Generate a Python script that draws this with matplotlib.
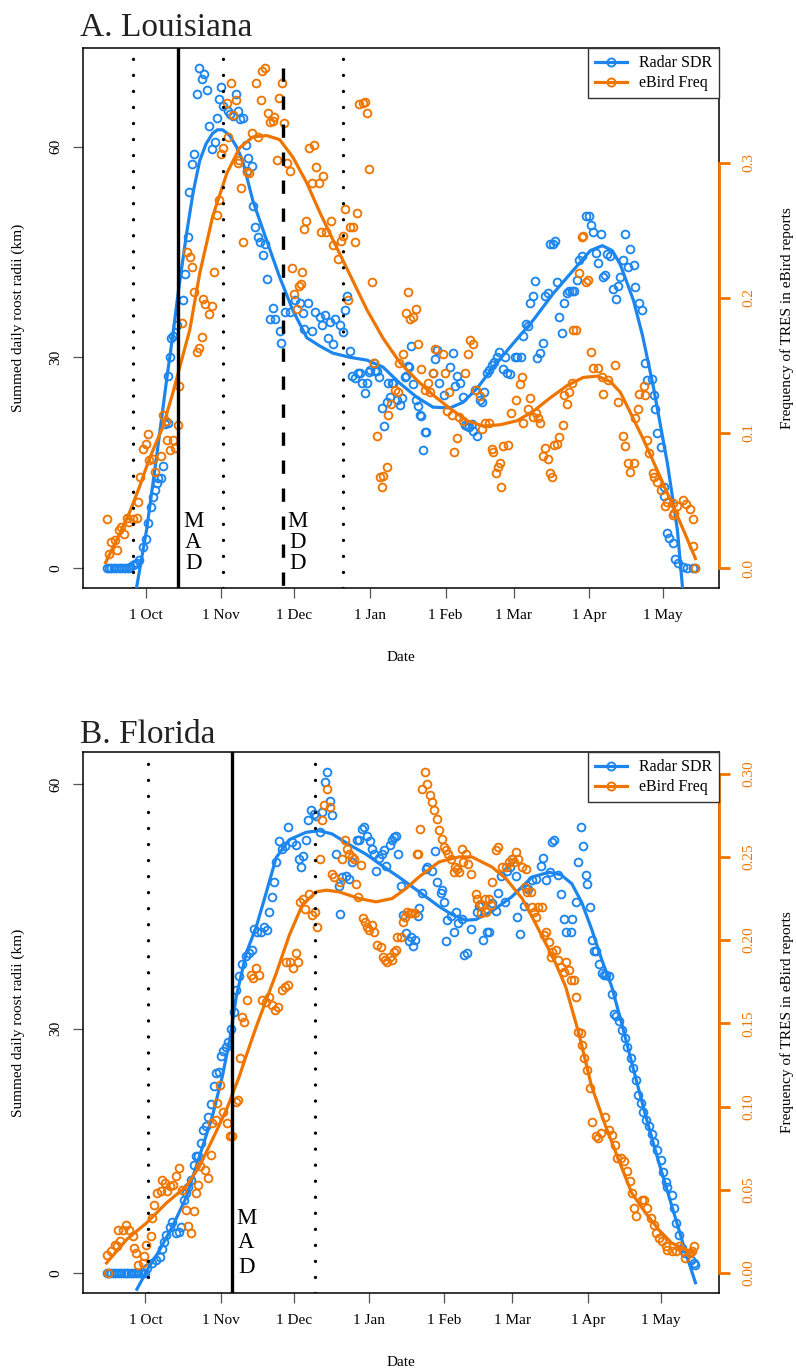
import numpy as np
import matplotlib
matplotlib.use("Agg")
import matplotlib.pyplot as plt
from matplotlib.lines import Line2D

plt.rcParams['font.family'] = ['Liberation Serif', 'DejaVu Serif']

BLUE = '#1C86EE'
ORANGE = '#EE7600'

# days counted from 1 October
month_ticks = [0, 31, 61, 92, 123, 151, 182, 212]
month_labels = ['1 Oct', '1 Nov', '1 Dec', '1 Jan', '1 Feb', '1 Mar', '1 Apr', '1 May']

# ---- Louisiana: radar summed daily roost radii (day, km) ----
sdr_la = np.array([
    [-16, 0], [-15, 0], [-14, 0], [-13, 0], [-12, 0], [-11, 0], [-10, 0], [-9, 0], [-8, 0], [-7, 0],
    [-6.2, 0.1], [-5.3, 0.4], [-4.5, 0.6], [-3.7, 0.7], [-2.5, 1.1], [-1.2, 3.0], [0, 4.1], [1.2, 6.4],
    [2.1, 8.7], [2.9, 10.1], [3.7, 11.1], [4.5, 12.1], [5.3, 12.8], [6.2, 12.8], [7.0, 14.5], [7.8, 20.5],
    [9.0, 20.6], [9.0, 27.3], [9.9, 30.1], [10.3, 32.8], [11.1, 33.0], [12.7, 34.6], [15.2, 38.1],
    [16.0, 41.9], [17.3, 47.1], [17.7, 53.5], [18.9, 57.6], [19.7, 59.0], [21.0, 67.5], [21.8, 71.2],
    [23.0, 69.7], [23.8, 70.4], [25.1, 68.0], [25.9, 63.0], [27.1, 59.7], [28.3, 60.6], [29.2, 64.1],
    [30.0, 66.8], [30.8, 68.5], [31.6, 65.8], [33.7, 65.1], [34.5, 64.7], [35.7, 64.4], [37.0, 67.5],
    [37.8, 65.1], [38.6, 64.0], [39.8, 64.1], [41.1, 60.2], [41.5, 56.6], [41.9, 58.4], [43.5, 57.3],
    [44.0, 51.5], [44.8, 48.5], [46.0, 47.1], [46.8, 46.4], [48.1, 44.5], [48.9, 46.2], [49.7, 41.2],
    [50.9, 35.4], [52.2, 37.0], [53.0, 35.5], [55.0, 33.7], [55.4, 32.0], [57.1, 36.4], [59.2, 36.4],
    [61.2, 38.1], [63.3, 37.7], [64.5, 36.3], [64.9, 34.1], [66.5, 37.8], [68.2, 33.8], [69.4, 36.5],
    [71.5, 35.7], [72.3, 34.6], [73.5, 36.0], [74.8, 32.8], [75.6, 35.0], [76.8, 31.9], [77.6, 35.5],
    [79.7, 34.6], [80.9, 33.6], [81.8, 36.7], [82.6, 38.8], [83.8, 30.9], [84.6, 27.4], [85.9, 27.0],
    [87.1, 27.7], [87.9, 27.7], [88.7, 26.3], [90.0, 24.9], [90.8, 26.3], [91.6, 27.9], [92.0, 28.2],
    [93.7, 29.2], [94.1, 28.0], [94.9, 28.0], [95.7, 27.2], [96.9, 22.8], [97.8, 20.2], [99.0, 23.6],
    [99.4, 26.3], [100.2, 24.3], [101.1, 26.4], [101.5, 26.3], [103.1, 23.9], [104.3, 23.2],
    [105.2, 24.2], [106.4, 27.2], [106.8, 27.3], [107.6, 28.7], [108.0, 28.6], [108.9, 31.6],
    [109.7, 26.2], [110.9, 23.9], [111.7, 23.0], [112.6, 21.8], [113.0, 21.6], [113.8, 16.8],
    [114.6, 19.3], [115.0, 19.3], [117.9, 27.7], [118.7, 29.7], [119.5, 31.0], [120.4, 26.3],
    [122.4, 24.7], [124.9, 28.6], [126.1, 30.6], [126.9, 25.9], [127.8, 27.3], [129.0, 26.4],
    [130.2, 24.3], [131.0, 20.3], [131.9, 20.2], [132.7, 20.1], [133.9, 20.5], [134.3, 19.5],
    [135.2, 25.3], [136.0, 18.8], [137.2, 23.9], [138.0, 23.7], [138.9, 25.0], [140.1, 27.7],
    [140.9, 28.2], [142.1, 28.9], [143.0, 29.4], [144.2, 30.0], [145.0, 30.7], [146.7, 28.3],
    [147.5, 30.0], [148.3, 27.7], [149.5, 27.6], [151.6, 30.1], [152.4, 30.0], [154.0, 30.0],
    [154.9, 33.0], [156.1, 34.8], [156.9, 34.4], [157.7, 37.7], [159.0, 38.7], [159.8, 40.8],
    [160.6, 29.9], [161.9, 30.6], [163.1, 32.0], [163.9, 38.8], [165.1, 39.1], [166.0, 46.1],
    [167.2, 46.2], [168.0, 46.5], [168.8, 40.7], [169.7, 35.8], [170.9, 33.4], [171.7, 37.7],
    [172.9, 39.2], [173.8, 39.5], [175.0, 39.5], [175.8, 39.4], [177.1, 41.0], [177.9, 43.9],
    [179.1, 44.4], [180.7, 50.1], [182.0, 50.1], [182.8, 48.8], [183.6, 47.9], [184.9, 44.8],
    [185.7, 43.5], [186.9, 47.6], [187.7, 41.4], [188.6, 41.7], [189.4, 44.7], [190.6, 44.4],
    [191.8, 39.8], [193.1, 38.3], [193.9, 40.1], [194.7, 41.4], [195.9, 43.9], [196.8, 47.5],
    [198.0, 42.8], [198.8, 45.4], [200.1, 43.1], [200.9, 40.0], [202.5, 37.7], [203.4, 36.7],
    [205.0, 29.2], [205.8, 26.7], [207.5, 26.9], [208.3, 24.7], [209.1, 22.6], [209.9, 19.2],
    [211.2, 17.2], [212.4, 11.5], [212.8, 10.2], [214.0, 5.0], [214.8, 4.3], [216.1, 3.6],
    [217.3, 1.3], [218.5, 0.7], [220.2, 0.1], [222.2, 0], [224.3, 0], [225.5, 0],
])

sdr_la_fit = np.array([
    [-5.5, -6.0], [-3.7, -2.8], [0.4, 5.4], [4.5, 15.8], [8.6, 26.7], [11.1, 33.0], [13.5, 39.5],
    [16.8, 47.6], [19.5, 53.5], [22.2, 58.0], [24.8, 60.4], [27.5, 61.9], [29.5, 62.4], [31.6, 62.4],
    [34.5, 61.6], [37.4, 59.9], [39.8, 58.0], [44.0, 52.3], [49.7, 46.6], [55.0, 41.4], [60.4, 36.7],
    [66.1, 32.8], [71.5, 31.6], [76.8, 30.6], [83.8, 30.0], [90.8, 29.6], [97.4, 28.6], [104.3, 26.3],
    [111.3, 24.3], [117.9, 22.9], [124.9, 22.8], [130.2, 23.6], [136.0, 25.6], [142.5, 28.6],
    [150.8, 32.0], [159.0, 35.3], [167.2, 39.1], [175.4, 42.4], [182.4, 45.2], [187.3, 45.9],
    [191.4, 45.2], [194.7, 43.2], [200.1, 38.1], [203.8, 33.1], [208.3, 25.7], [214.0, 14.9],
    [218.1, 5.4], [220.2, -2.8], [221.0, -5.0],
])

# ---- Louisiana: eBird reporting frequency (day, freq) ----
ebird_la = np.array([
    [-16.0, 0.036], [-15.2, 0.010], [-14.0, 0.019], [-12.7, 0.021], [-11.9, 0.013], [-10.7, 0.028],
    [-9.9, 0.030], [-9.0, 0.025], [-7.8, 0.037], [-6.6, 0.034], [-5.3, 0.036], [-3.7, 0.037],
    [-2.9, 0.049], [-2.1, 0.067], [-1.2, 0.088], [0.0, 0.092], [0.8, 0.099], [1.6, 0.080],
    [2.9, 0.081], [3.7, 0.071], [6.2, 0.083], [7.0, 0.113], [8.2, 0.109], [8.6, 0.095], [9.9, 0.087],
    [11.1, 0.095], [11.9, 0.089], [13.1, 0.106], [13.9, 0.135], [14.8, 0.181], [16.8, 0.234],
    [18.1, 0.230], [18.9, 0.223], [19.7, 0.204], [21.0, 0.160], [21.8, 0.163], [23.0, 0.171],
    [23.4, 0.199], [24.2, 0.195], [25.9, 0.188], [27.1, 0.194], [28.0, 0.219], [29.2, 0.261],
    [30.0, 0.272], [30.8, 0.306], [31.6, 0.311], [33.3, 0.344], [33.7, 0.319], [34.9, 0.359],
    [35.7, 0.335], [37.0, 0.346], [37.8, 0.300], [38.2, 0.302], [39.0, 0.281], [39.8, 0.241],
    [41.5, 0.293], [42.3, 0.292], [43.5, 0.322], [45.2, 0.359], [46.0, 0.319], [47.2, 0.346],
    [47.7, 0.368], [48.9, 0.370], [50.1, 0.337], [50.9, 0.330], [52.2, 0.331], [52.6, 0.334],
    [53.8, 0.302], [54.6, 0.348], [55.9, 0.359], [56.7, 0.329], [57.9, 0.300], [59.2, 0.294],
    [60.0, 0.222], [60.8, 0.203], [62.1, 0.192], [62.9, 0.209], [63.7, 0.210], [64.1, 0.219],
    [64.9, 0.251], [65.7, 0.257], [67.0, 0.311], [68.2, 0.285], [69.0, 0.313], [69.8, 0.297],
    [71.1, 0.285], [71.9, 0.249], [72.7, 0.290], [73.9, 0.249], [76.0, 0.257], [76.8, 0.239],
    [78.9, 0.229], [80.1, 0.242], [80.9, 0.246], [81.8, 0.266], [83.0, 0.198], [83.8, 0.252],
    [85.0, 0.252], [85.9, 0.241], [86.7, 0.263], [87.5, 0.343], [89.1, 0.344], [90.0, 0.345],
    [90.8, 0.337], [91.6, 0.295], [92.8, 0.212], [93.7, 0.152], [94.9, 0.098], [96.1, 0.067],
    [96.9, 0.060], [97.4, 0.068], [99.0, 0.075], [99.4, 0.113], [100.6, 0.121], [102.3, 0.132],
    [103.5, 0.130], [103.9, 0.152], [105.6, 0.158], [106.8, 0.189], [107.6, 0.204], [108.5, 0.184],
    [109.7, 0.186], [110.9, 0.192], [111.7, 0.166], [113.0, 0.147], [114.6, 0.132], [115.8, 0.137],
    [116.7, 0.130], [117.9, 0.144], [118.7, 0.162], [122.0, 0.158], [122.8, 0.144], [123.6, 0.116],
    [124.5, 0.130], [125.7, 0.113], [126.5, 0.086], [127.8, 0.096], [128.6, 0.112], [130.2, 0.109],
    [131.0, 0.144], [132.3, 0.158], [133.1, 0.169], [134.3, 0.166], [135.6, 0.132], [137.2, 0.127],
    [138.0, 0.103], [139.3, 0.107], [140.9, 0.107], [142.1, 0.088], [142.5, 0.086], [143.8, 0.070],
    [144.6, 0.075], [145.4, 0.078], [145.8, 0.060], [146.7, 0.090], [148.7, 0.091], [149.9, 0.115],
    [152.0, 0.124], [153.6, 0.136], [154.5, 0.141], [154.9, 0.107], [156.9, 0.118], [157.7, 0.126],
    [159.0, 0.112], [160.2, 0.115], [161.0, 0.111], [161.9, 0.107], [163.1, 0.083], [163.9, 0.089],
    [165.1, 0.081], [166.0, 0.070], [166.8, 0.067], [167.6, 0.091], [168.8, 0.092], [169.7, 0.097],
    [171.3, 0.106], [171.7, 0.128], [172.9, 0.121], [173.8, 0.130], [175.0, 0.137], [175.4, 0.176],
    [176.6, 0.176], [177.9, 0.218], [179.1, 0.245], [179.5, 0.246], [180.7, 0.212], [181.6, 0.213],
    [182.8, 0.160], [183.6, 0.148], [185.7, 0.148], [187.3, 0.141], [187.7, 0.129], [189.8, 0.139],
    [192.6, 0.150], [193.9, 0.123], [195.9, 0.098], [196.8, 0.090], [198.0, 0.078], [198.8, 0.071],
    [200.1, 0.078], [200.9, 0.111], [202.1, 0.118], [202.5, 0.129], [204.2, 0.135], [205.0, 0.128],
    [205.8, 0.095], [206.6, 0.085], [207.9, 0.070], [208.7, 0.067], [209.9, 0.064], [211.2, 0.058],
    [213.2, 0.046], [214.0, 0.049], [216.1, 0.048], [216.1, 0.039], [216.9, 0.041], [218.1, 0.046],
    [220.6, 0.050], [221.8, 0.047], [223.1, 0.044], [224.3, 0.036], [224.7, 0.016], [225.5, 0.000],
])

ebird_la_fit = np.array([
    [-16.4, 0.004], [-11.5, 0.022], [-6.6, 0.041], [-2.5, 0.060], [1.6, 0.081], [7.0, 0.104],
    [11.1, 0.129], [14.8, 0.154], [18.1, 0.176], [22.2, 0.218], [27.5, 0.260], [33.3, 0.292],
    [38.6, 0.311], [44.0, 0.319], [49.7, 0.320], [55.0, 0.317], [60.4, 0.304], [66.1, 0.285],
    [71.5, 0.263], [76.8, 0.243], [83.8, 0.217], [90.8, 0.191], [97.4, 0.170], [104.3, 0.152],
    [111.3, 0.139], [117.9, 0.128], [124.9, 0.118], [131.9, 0.109], [138.4, 0.105], [145.4, 0.106],
    [152.4, 0.109], [159.0, 0.116], [166.0, 0.126], [172.9, 0.135], [179.5, 0.141], [185.3, 0.142],
    [190.6, 0.138], [194.7, 0.130], [198.8, 0.115], [204.2, 0.095], [209.9, 0.072], [215.3, 0.050],
    [220.6, 0.028], [225.5, 0.007],
])

# ---- Florida: radar summed daily roost radii (day, km) ----
sdr_fl = np.array(
    [[d, 0] for d in range(-16, 1)] + [
    [0.8, 0.6], [2.5, 1.2], [4.5, 1.6], [5.8, 2.0], [7.0, 3.0], [7.8, 3.8], [8.6, 4.7], [9.9, 5.7],
    [11.1, 6.3], [12.7, 4.9], [13.9, 5.0], [14.8, 5.7], [16.0, 9.0], [16.8, 9.8], [17.7, 10.6],
    [18.9, 11.4], [20.1, 13.3], [21.0, 14.3], [21.8, 14.3], [23.0, 16.0], [23.8, 17.6], [25.1, 18.0],
    [25.9, 19.1], [27.1, 20.7], [28.3, 22.9], [29.2, 24.6], [30.4, 24.7], [31.2, 26.6], [32.0, 27.3],
    [33.3, 27.7], [34.1, 28.3], [35.3, 29.9], [36.6, 32.1], [37.4, 34.8], [38.6, 36.5], [39.8, 37.9],
    [41.5, 38.9], [42.7, 39.3], [44.0, 39.6], [44.8, 42.2], [46.0, 41.8], [47.7, 41.8], [48.9, 42.5],
    [50.1, 42.1], [50.9, 44.3], [52.2, 46.2], [53.0, 48.0], [53.8, 50.4], [55.0, 53.0], [56.3, 52.1],
    [57.5, 52.4], [58.7, 54.7], [60.4, 52.9], [62.0, 52.5], [63.3, 50.8], [64.1, 49.9], [64.9, 51.2],
    [66.1, 53.1], [67.0, 55.6], [68.2, 56.9], [69.4, 56.3], [70.2, 56.1], [71.9, 54.1], [72.7, 56.6],
    [73.9, 60.3], [74.8, 61.5], [76.0, 57.9], [76.8, 56.2], [78.5, 51.4], [79.7, 47.5], [80.1, 44.1],
    [80.9, 48.6], [82.6, 48.7], [83.8, 48.4], [85.0, 50.5], [87.1, 53.2], [87.9, 53.2], [89.1, 54.5],
    [90.0, 54.8], [91.2, 53.6], [92.4, 53.0], [93.3, 52.1], [94.1, 51.4], [94.9, 49.4], [96.1, 50.9],
    [97.4, 51.4], [98.2, 51.9], [99.0, 50.0], [100.6, 52.6], [101.5, 53.1], [102.3, 53.5],
    [103.1, 53.6], [103.9, 51.4], [105.2, 47.5], [106.0, 44.0], [107.2, 41.7], [108.5, 40.7],
    [109.3, 41.3], [110.1, 40.1], [110.9, 40.9], [112.1, 43.8], [112.6, 44.8], [113.8, 46.7],
    [115.4, 49.6], [115.8, 49.8], [117.9, 49.3], [119.1, 51.8], [120.0, 48.0], [121.6, 46.7],
    [122.0, 47.0], [122.8, 45.6], [123.6, 40.8], [124.1, 43.3], [125.7, 43.8], [126.9, 41.8],
    [127.8, 44.3], [128.6, 43.0], [130.2, 43.4], [131.0, 39.0], [132.3, 39.3], [133.9, 42.2],
    [136.4, 44.3], [137.2, 45.0], [138.9, 40.9], [140.5, 41.9], [141.3, 41.8], [142.5, 45.4],
    [144.2, 44.4], [145.0, 46.7], [146.2, 48.7], [147.9, 45.5], [148.7, 49.3], [149.9, 49.9],
    [150.8, 50.8], [152.4, 48.7], [152.8, 43.7], [154.0, 41.6], [155.7, 45.0], [156.5, 47.3],
    [157.3, 47.1], [159.0, 48.3], [160.6, 48.4], [162.7, 50.0], [163.5, 50.9], [164.7, 48.3],
    [166.4, 49.2], [167.2, 52.9], [168.0, 53.2], [169.7, 48.8], [170.9, 46.5], [172.1, 43.4],
    [172.9, 41.8], [175.0, 41.8], [175.4, 43.5], [177.1, 45.6], [177.9, 50.4], [179.1, 54.8],
    [179.9, 52.4], [181.2, 48.9], [181.6, 47.8], [182.8, 44.9], [183.6, 40.9], [184.4, 39.5],
    [185.3, 39.5], [186.5, 37.9], [187.7, 36.8], [188.6, 36.6], [189.4, 36.6], [190.6, 36.4],
    [191.8, 34.2], [192.7, 31.8], [193.5, 31.6], [194.7, 30.9], [195.9, 29.8], [197.2, 28.9],
    [198.0, 27.8], [199.6, 26.4], [200.5, 25.2], [201.7, 23.7], [202.5, 21.9], [203.8, 20.9],
    [204.6, 19.8], [205.8, 18.8], [207.0, 18.0], [208.3, 17.0], [209.1, 16.1], [210.3, 15.1],
    [212.0, 13.9], [212.8, 12.4], [214.0, 11.2], [214.8, 10.5], [216.5, 9.6], [217.3, 8.0],
    [218.1, 6.1], [219.4, 4.7], [220.6, 3.1], [222.2, 2.5], [224.3, 1.6], [225.5, 1.2], [226.3, 1.0],
])

sdr_fl_fit = np.array([
    [-3.5, -2.0], [0.8, 0.4], [5.8, 2.8], [11.1, 5.7], [16.8, 9.3], [22.2, 14.3], [27.5, 19.2],
    [31.6, 24.1], [34.5, 28.3], [37.4, 34.0], [41.5, 39.3], [45.6, 42.5], [49.7, 46.7], [53.8, 51.0],
    [59.2, 53.2], [66.1, 54.1], [71.5, 54.3], [76.8, 53.9], [83.8, 52.6], [90.8, 51.4], [97.4, 50.0],
    [104.3, 48.6], [112.6, 46.8], [120.8, 45.0], [126.1, 44.0], [131.9, 43.3], [136.0, 43.4],
    [142.5, 44.4], [150.8, 46.2], [159.0, 48.6], [166.0, 49.2], [170.9, 48.9], [175.4, 47.8],
    [179.5, 45.5], [183.6, 42.2], [187.7, 38.5], [191.8, 35.2], [195.9, 30.7], [200.1, 25.8],
    [205.8, 19.3], [211.2, 13.6], [216.5, 8.3], [222.2, 2.6], [226.3, -1.2],
])

# ---- Florida: eBird reporting frequency (day, freq) ----
ebird_fl = np.array([
    [-16.0, 0.011], [-15.6, 0.000], [-14.0, 0.013], [-12.7, 0.017], [-11.5, 0.016], [-11.1, 0.026],
    [-10.3, 0.019], [-9.4, 0.026], [-7.8, 0.029], [-6.6, 0.026], [-5.3, 0.022], [-4.9, 0.015],
    [-3.7, 0.012], [-2.9, 0.005], [-1.2, 0.006], [-0.4, 0.010], [0.4, 0.017], [2.1, 0.022],
    [2.9, 0.033], [3.7, 0.041], [4.9, 0.048], [6.2, 0.049], [7.0, 0.056], [8.2, 0.054], [9.0, 0.049],
    [10.3, 0.052], [11.5, 0.053], [12.7, 0.058], [14.0, 0.063], [15.2, 0.050], [16.8, 0.038],
    [17.7, 0.028], [18.9, 0.024], [20.1, 0.037], [21.0, 0.048], [21.8, 0.053], [22.6, 0.064],
    [24.6, 0.062], [25.9, 0.057], [27.1, 0.071], [27.5, 0.090], [29.2, 0.092], [29.6, 0.102],
    [30.8, 0.113], [32.0, 0.097], [33.7, 0.090], [34.9, 0.082], [35.7, 0.082], [37.4, 0.103],
    [38.2, 0.104], [39.0, 0.129], [39.8, 0.154], [40.7, 0.151], [41.9, 0.164], [43.5, 0.179],
    [44.4, 0.177], [45.6, 0.183], [46.8, 0.179], [48.1, 0.164], [49.7, 0.163], [50.9, 0.166],
    [52.2, 0.161], [53.4, 0.158], [54.6, 0.160], [56.3, 0.170], [57.5, 0.172], [57.9, 0.187],
    [58.7, 0.173], [59.6, 0.187], [60.8, 0.183], [62.0, 0.192], [62.9, 0.187], [63.7, 0.223],
    [64.9, 0.225], [65.7, 0.219], [67.4, 0.228], [68.6, 0.215], [69.8, 0.217], [70.7, 0.208],
    [71.9, 0.249], [72.7, 0.272], [73.5, 0.281], [74.8, 0.291], [76.0, 0.280], [76.8, 0.240],
    [77.6, 0.238], [80.1, 0.235], [80.9, 0.249], [82.2, 0.260], [83.0, 0.255], [83.8, 0.252],
    [85.0, 0.250], [85.9, 0.249], [86.7, 0.234], [87.5, 0.226], [88.7, 0.245], [89.6, 0.213],
    [90.4, 0.211], [91.2, 0.208], [92.0, 0.206], [93.3, 0.209], [94.1, 0.205], [95.3, 0.197],
    [96.9, 0.196], [97.8, 0.190], [98.6, 0.188], [99.4, 0.187], [100.6, 0.190], [101.5, 0.188],
    [102.3, 0.193], [103.1, 0.194], [103.5, 0.202], [105.2, 0.202], [106.0, 0.211], [106.8, 0.214],
    [107.6, 0.217], [108.9, 0.216], [109.7, 0.216], [110.9, 0.216], [111.7, 0.252], [112.1, 0.252],
    [113.0, 0.267], [113.8, 0.291], [115.0, 0.301], [115.8, 0.294], [117.1, 0.287], [117.9, 0.283],
    [118.7, 0.278], [120.0, 0.273], [120.8, 0.266], [122.0, 0.261], [122.8, 0.256], [123.6, 0.254],
    [124.5, 0.252], [125.7, 0.249], [126.9, 0.241], [127.3, 0.244], [128.2, 0.243], [129.0, 0.241],
    [130.2, 0.255], [130.6, 0.247], [131.9, 0.252], [132.7, 0.246], [133.9, 0.240], [136.0, 0.228],
    [136.4, 0.225], [137.6, 0.222], [138.0, 0.216], [138.4, 0.221], [139.7, 0.225], [140.1, 0.217],
    [141.3, 0.225], [142.1, 0.221], [142.5, 0.235], [144.2, 0.254], [145.0, 0.256], [146.7, 0.244],
    [148.3, 0.244], [149.5, 0.247], [150.8, 0.249], [151.6, 0.247], [152.4, 0.253], [153.2, 0.249],
    [154.9, 0.244], [156.1, 0.232], [156.5, 0.243], [156.9, 0.229], [158.6, 0.229], [159.0, 0.220],
    [159.8, 0.217], [160.6, 0.214], [161.4, 0.220], [163.1, 0.220], [163.9, 0.203], [164.7, 0.205],
    [166.0, 0.199], [166.8, 0.190], [167.2, 0.193], [168.8, 0.194], [169.7, 0.188], [170.9, 0.184],
    [172.1, 0.181], [172.9, 0.187], [174.2, 0.182], [175.0, 0.176], [176.2, 0.176], [177.1, 0.166],
    [177.9, 0.145], [179.1, 0.144], [179.5, 0.137], [180.3, 0.129], [181.6, 0.122], [182.8, 0.111],
    [183.6, 0.091], [185.3, 0.082], [186.1, 0.081], [187.3, 0.084], [189.0, 0.094], [190.6, 0.086],
    [191.8, 0.083], [193.1, 0.077], [193.9, 0.069], [195.5, 0.069], [196.8, 0.067], [198.0, 0.061],
    [199.2, 0.055], [200.1, 0.048], [200.9, 0.039], [201.7, 0.034], [204.2, 0.044], [205.0, 0.044],
    [206.2, 0.039], [207.9, 0.033], [209.1, 0.029], [209.9, 0.024], [211.2, 0.021], [212.4, 0.019],
    [214.0, 0.016], [214.8, 0.014], [216.5, 0.013], [218.1, 0.013], [219.4, 0.016], [221.0, 0.013],
    [222.2, 0.009], [223.9, 0.012], [224.7, 0.013], [225.9, 0.016],
])

ebird_fl_fit = np.array([
    [-16.0, 0.006], [-7.8, 0.020], [0.4, 0.030], [8.6, 0.042], [16.8, 0.052], [22.2, 0.064],
    [27.5, 0.080], [33.3, 0.098], [38.6, 0.118], [41.1, 0.129], [45.6, 0.148], [49.7, 0.164],
    [53.8, 0.180], [59.2, 0.203], [64.5, 0.221], [70.2, 0.229], [74.4, 0.230], [79.7, 0.229],
    [87.9, 0.225], [94.9, 0.223], [101.5, 0.225], [107.2, 0.231], [112.6, 0.238], [120.8, 0.247],
    [129.0, 0.250], [134.3, 0.250], [142.5, 0.244], [148.3, 0.237], [155.0, 0.225], [159.8, 0.212],
    [164.7, 0.198], [168.8, 0.186], [172.9, 0.172], [178.3, 0.144], [183.6, 0.112], [189.4, 0.088],
    [194.7, 0.068], [200.1, 0.048], [205.8, 0.036], [211.2, 0.026], [216.5, 0.018], [222.2, 0.014],
    [225.5, 0.012],
])

# reference dates (days after 1 Oct)
la_mad, la_mdd = 13.5, 56.4
la_dotted = [-5.1, 31.9, 80.9]
fl_mad = 35.45
fl_dotted = [0.95, 69.96]


def r_range(values):
    """Axis range padded by 4% on each side, as R does by default."""
    lo, hi = np.min(values), np.max(values)
    pad = 0.04 * (hi - lo)
    return lo - pad, hi + pad


def stacked(ax, km_ax, x, word):
    # letters centred at 7, 4 and 1 km, one above the other
    for ch, y in zip(word, [7, 4, 1]):
        ax.text(x + 6, y, ch, ha='center', va='center_baseline', fontsize=16.5,
                transform=km_ax.transData, zorder=6)


def draw_panel(ax, sdr, sdr_fit, ebird, ebird_fit, km_ticks, freq_ticks, freq_labels,
               mad, dotted, mdd=None):
    ax2 = ax.twinx()

    ax.plot(sdr[:, 0], sdr[:, 1], 'o', ms=5.6, mfc='none', mec=BLUE, mew=1.35, zorder=2)
    ax.plot(sdr_fit[:, 0], sdr_fit[:, 1], color=BLUE, lw=2.3, zorder=3)
    ax2.plot(ebird[:, 0], ebird[:, 1], 'o', ms=5.6, mfc='none', mec=ORANGE, mew=1.35, zorder=2)
    ax2.plot(ebird_fit[:, 0], ebird_fit[:, 1], color=ORANGE, lw=2.3, zorder=3)

    ax.set_xlim(r_range(np.concatenate([sdr[:, 0], ebird[:, 0]])))
    ax.set_ylim(r_range(sdr[:, 1]))
    ax2.set_ylim(r_range(ebird[:, 1]))

    # reference lines: window (dotted), mean arrival (solid), mean departure (dashed)
    xt = ax2.get_xaxis_transform()
    for d in dotted:
        ax2.plot([d, d], [0, 1], transform=xt, color='black', lw=2.4,
                 linestyle=(0, (0.01, 4.8)), dash_capstyle='round', zorder=5)
    ax2.plot([mad, mad], [0, 1], transform=xt, color='black', lw=2.4, zorder=5)
    stacked(ax2, ax, mad, 'MAD')
    if mdd is not None:
        ax2.plot([mdd, mdd], [sdr[:, 1].max(), ax.get_ylim()[0]], transform=ax.transData,
                 color='black', lw=2.4, linestyle=(0, (4.0, 4.4)), zorder=5)
        stacked(ax2, ax, mdd, 'MDD')

    # box and axes
    for sp in ax.spines.values():
        sp.set_linewidth(1.1)
        sp.set_color('black')
    for name in ['left', 'top', 'bottom']:
        ax2.spines[name].set_visible(False)
    ax2.spines['right'].set_color(ORANGE)
    ax2.spines['right'].set_linewidth(2.0)
    ax2.spines['right'].set_bounds(freq_ticks[0], freq_ticks[-1])

    ax.set_xticks(month_ticks)
    ax.set_xticklabels(month_labels)
    ax.tick_params(axis='x', length=7, width=0.9, color='#555555', pad=8, labelsize=11)
    ax.set_yticks(km_ticks)
    ax.set_yticklabels([str(k) for k in km_ticks])
    ax.tick_params(axis='y', length=7, width=0.9, color='#555555', pad=8, labelsize=11,
                   labelrotation=90)
    for lab in ax.get_yticklabels():
        lab.set_verticalalignment('center')

    ax2.set_yticks(freq_ticks)
    ax2.set_yticklabels(freq_labels)
    ax2.tick_params(axis='y', length=8, width=2.0, color=ORANGE, labelcolor=ORANGE, pad=9,
                    labelsize=11, labelrotation=90)
    for lab in ax2.get_yticklabels():
        lab.set_verticalalignment('center')

    handles = [Line2D([], [], color=c, lw=2.3, marker='o', ms=5.8, mfc='none', mew=1.35)
               for c in (BLUE, ORANGE)]
    leg = ax2.legend(handles, ['Radar SDR', 'eBird Freq'], loc='upper right', borderaxespad=0,
                     fontsize=11.5, frameon=True, fancybox=False, framealpha=1,
                     edgecolor='#333333', borderpad=0.45, labelspacing=0.25,
                     handlelength=2.0, handletextpad=0.75, numpoints=1)
    leg.get_frame().set_linewidth(1.0)
    leg.set_zorder(10)
    return ax2


fig = plt.figure(figsize=(7.96, 13.7), dpi=100)
W, H = 796, 1370

ax_la = fig.add_axes([83 / W, 1 - 588 / H, 636 / W, 540 / H])
draw_panel(ax_la, sdr_la, sdr_la_fit, ebird_la, ebird_la_fit, [0, 30, 60],
           [0.0, 0.1, 0.2, 0.3], ['0.0', '0.1', '0.2', '0.3'], la_mad, la_dotted, mdd=la_mdd)

ax_fl = fig.add_axes([83 / W, 1 - 1293 / H, 636 / W, 541 / H])
draw_panel(ax_fl, sdr_fl, sdr_fl_fit, ebird_fl, ebird_fl_fit, [0, 30, 60],
           [0.0, 0.05, 0.10, 0.15, 0.20, 0.25, 0.30],
           ['0.00', '0.05', '0.10', '0.15', '0.20', '0.25', '0.30'], fl_mad, fl_dotted)

# titles and axis labels
for title, base, top, bottom in [('A. Louisiana', 36, 48, 588), ('B. Florida', 743, 752, 1293)]:
    fig.text(80 / W, 1 - base / H, title, fontsize=24, color='#222222', ha='left', va='baseline')
    mid = (top + bottom) / 2
    fig.text(18 / W, 1 - mid / H, 'Summed daily roost radii (km)', rotation=90,
             ha='center', va='center', fontsize=11)
    fig.text(787 / W, 1 - mid / H, 'Frequency of TRES in eBird reports', rotation=90,
             ha='center', va='center', fontsize=11)
    fig.text(401 / W, 1 - (bottom + 69) / H, 'Date', ha='center', va='center', fontsize=11)

fig.savefig('out.png', dpi=100)
